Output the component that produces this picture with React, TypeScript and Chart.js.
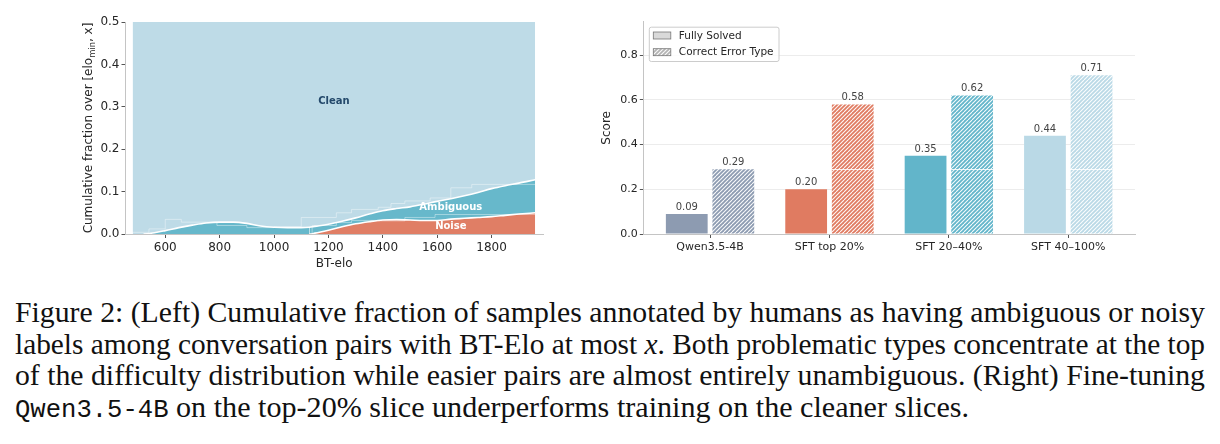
import React, { useEffect, useLayoutEffect, useRef } from "react";
import { Chart, registerables } from "chart.js";

Chart.register(...registerables);

// ---------- Left panel: cumulative fraction of problematic labels vs BT-elo ----------
const eloGrid = [480, 520, 560, 600, 650, 700, 750, 800, 850, 900, 950, 1000, 1050, 1100, 1130, 1150, 1200, 1250, 1300, 1350, 1400, 1450, 1500, 1550, 1600, 1650, 1700, 1750, 1800, 1850, 1900, 1960];
// upper edge of the ambiguous band (ambiguous + noise, cumulative)
const cumAmbiguousOrNoise = [0, 0, 0.003, 0.008, 0.015, 0.021, 0.026, 0.028, 0.028, 0.025, 0.019, 0.016, 0.015, 0.015, 0.016, 0.018, 0.023, 0.03, 0.038, 0.047, 0.055, 0.06, 0.064, 0.07, 0.077, 0.083, 0.09, 0.098, 0.107, 0.114, 0.12, 0.128];
// upper edge of the noise band (cumulative)
const cumNoise = [0, 0, 0, 0, 0, 0, 0, 0, 0, 0, 0, 0, 0, 0, 0, 0.002, 0.009, 0.017, 0.024, 0.029, 0.033, 0.034, 0.033, 0.032, 0.032, 0.035, 0.037, 0.039, 0.041, 0.044, 0.047, 0.05];

// raw binned values, drawn as faint steps behind the smoothed curves
const ambiguousBinEdges = [480, 540, 600, 659, 790, 900, 1000, 1100, 1229, 1285, 1383, 1430, 1481, 1574, 1650, 1727, 1835, 1960];
const ambiguousBinValues = [0, 0.004, 0.012, 0.0345, 0.028, 0.02, 0.015, 0.017, 0.039, 0.05, 0.058, 0.063, 0.072, 0.078, 0.085, 0.109, 0.117, 0.117];
const noiseBinEdges = [1140, 1229, 1285, 1383, 1481, 1592, 1727, 1960];
const noiseBinValues = [0, 0.02, 0.027, 0.032, 0.031, 0.039, 0.046, 0.046];

const eloTicks = [600, 800, 1000, 1200, 1400, 1600, 1800];
const fracTicks = [0, 0.1, 0.2, 0.3, 0.4, 0.5];

const regionLabels = [
  { text: "Clean", elo: 1220, frac: 0.312, color: "#24496b" },
  { text: "Ambiguous", elo: 1650, frac: 0.063, color: "#ffffff" },
  { text: "Noise", elo: 1650, frac: 0.019, color: "#ffffff" },
];

const CLEAN = "#bedbe7";
const AMBIG = "#67b8cb";
const NOISE = "#e07e65";

// ---------- Right panel: scores per training slice ----------
const models = ["Qwen3.5-4B", "SFT top 20%", "SFT 20–40%", "SFT 40–100%"];
const fullySolved = [0.09, 0.2, 0.35, 0.44];
const correctErrorType = [0.29, 0.58, 0.62, 0.71];
const modelColors = ["#8d9bb1", "#e07b61", "#62b5ca", "#bad9e6"];
const scoreTicks = [0, 0.2, 0.4, 0.6, 0.8];

// ---------- Caption ----------
type Seg = { t: string; kind?: "mono" | "math" };
const captionLines: Seg[][] = [
  [{ t: "Figure 2: (Left) Cumulative fraction of samples annotated by humans as having ambiguous or noisy" }],
  [{ t: "labels among conversation pairs with BT-Elo at most " }, { t: "x", kind: "math" }, { t: ". Both problematic types concentrate at the top" }],
  [{ t: "of the difficulty distribution while easier pairs are almost entirely unambiguous. (Right) Fine-tuning" }],
  [{ t: "Qwen3.5-4B", kind: "mono" }, { t: " on the top-20% slice underperforms training on the cleaner slices." }],
];
const captionWidths = [1190, 1190, 1190, 954];

const SANS = "'DejaVu Sans', sans-serif";
const TEXT = "#262626";

const toPoints = (xs: number[], ys: number[]) => xs.map((x, i) => ({ x, y: ys[i] }));

const hideFlatZero = (ctx: any) =>
  ctx.p0.parsed.y === 0 && ctx.p1.parsed.y === 0 ? "rgba(0,0,0,0)" : "#ffffff";

function makeHatch(color: string, line = "rgba(255,255,255,0.95)") {
  const c = document.createElement("canvas");
  c.width = 8;
  c.height = 8;
  const g = c.getContext("2d")!;
  g.fillStyle = color;
  g.fillRect(0, 0, 8, 8);
  g.strokeStyle = line;
  g.lineWidth = 1.1;
  for (let k = 0; k <= 16; k += 4) {
    g.beginPath();
    g.moveTo(k, 0);
    g.lineTo(k - 8, 8);
    g.stroke();
  }
  return g.createPattern(c, "repeat")!;
}

const leftDecor = {
  id: "leftDecor",
  afterDatasetsDraw(chart: any) {
    const { ctx, scales } = chart;
    ctx.save();
    ctx.textAlign = "center";
    ctx.textBaseline = "middle";
    ctx.font = `bold 10px ${SANS}`;
    for (const r of regionLabels) {
      ctx.fillStyle = r.color;
      ctx.fillText(r.text, scales.x.getPixelForValue(r.elo), scales.y.getPixelForValue(r.frac));
    }
    ctx.restore();
  },
  afterDraw(chart: any) {
    const { ctx, chartArea } = chart;
    const main = "Cumulative fraction over [elo";
    const sub = "min";
    const tail = ", x]";
    const f = `12px ${SANS}`;
    const fs = `8.4px ${SANS}`;
    ctx.save();
    ctx.font = f;
    const w1 = ctx.measureText(main).width;
    const w3 = ctx.measureText(tail).width;
    ctx.font = fs;
    const w2 = ctx.measureText(sub).width;
    const total = w1 + w2 + w3;
    ctx.translate(chartArea.left - 37, (chartArea.top + chartArea.bottom) / 2);
    ctx.rotate(-Math.PI / 2);
    ctx.fillStyle = TEXT;
    ctx.textBaseline = "alphabetic";
    ctx.textAlign = "left";
    let xx = -total / 2;
    const by = 4.4;
    ctx.font = f;
    ctx.fillText(main, xx, by);
    xx += w1;
    ctx.font = fs;
    ctx.fillText(sub, xx, by + 2.6);
    xx += w2;
    ctx.font = f;
    ctx.fillText(tail, xx, by);
    ctx.restore();
  },
};

const rightDecor = {
  id: "rightDecor",
  afterDatasetsDraw(chart: any) {
    const { ctx, scales, chartArea } = chart;
    ctx.save();
    // reference level of the base model, marked across the fine-tuned hatched bars
    const hatchedMeta = chart.getDatasetMeta(1);
    const yRef = Math.round(scales.y.getPixelForValue(correctErrorType[0])) + 0.5;
    ctx.strokeStyle = "rgba(255,255,255,0.85)";
    ctx.lineWidth = 1;
    hatchedMeta.data.forEach((bar: any, i: number) => {
      if (i === 0) return;
      ctx.beginPath();
      ctx.moveTo(bar.x - bar.width / 2, yRef);
      ctx.lineTo(bar.x + bar.width / 2, yRef);
      ctx.stroke();
    });
    // value labels
    ctx.font = `10px ${SANS}`;
    ctx.fillStyle = "#444444";
    ctx.textAlign = "center";
    ctx.textBaseline = "alphabetic";
    [fullySolved, correctErrorType].forEach((vals, d) => {
      chart.getDatasetMeta(d).data.forEach((bar: any, i: number) => {
        ctx.fillText(vals[i].toFixed(2), bar.x, bar.y - 4);
      });
    });
    // legend
    const items = [
      { label: "Fully Solved", fill: "#d9d9d9" as any },
      { label: "Correct Error Type", fill: makeHatch("#b3b3b3") as any },
    ];
    ctx.font = `10.5px ${SANS}`;
    const tw = Math.max(...items.map((it) => ctx.measureText(it.label).width));
    const bx = chartArea.left + 5.5;
    const by = chartArea.top + 5;
    const bw = 30 + tw + 5;
    const bh = 34.3;
    ctx.beginPath();
    ctx.roundRect(bx + 0.5, by + 0.5, bw, bh, 2);
    ctx.fillStyle = "rgba(255,255,255,0.85)";
    ctx.fill();
    ctx.strokeStyle = "#cccccc";
    ctx.lineWidth = 1;
    ctx.stroke();
    ctx.textAlign = "left";
    ctx.textBaseline = "middle";
    items.forEach((it, i) => {
      const cy = by + 8.8 + i * 16.7;
      ctx.fillStyle = it.fill;
      ctx.fillRect(bx + 4.5, cy - 3.5, 17.5, 7);
      ctx.strokeStyle = "#777777";
      ctx.lineWidth = 0.8;
      ctx.strokeRect(bx + 4.5, cy - 3.5, 17.5, 7);
      ctx.fillStyle = TEXT;
      ctx.fillText(it.label, bx + 30, cy + 0.5);
    });
    ctx.restore();
  },
};

function leftConfig(): any {
  return {
    type: "line",
    data: {
      datasets: [
        {
          label: "Noise",
          data: toPoints(eloGrid, cumNoise),
          fill: "origin",
          backgroundColor: NOISE,
          borderColor: "#ffffff",
          borderWidth: 1.6,
          pointRadius: 0,
          cubicInterpolationMode: "monotone",
          segment: { borderColor: hideFlatZero },
          order: 1,
        },
        {
          label: "Ambiguous",
          data: toPoints(eloGrid, cumAmbiguousOrNoise),
          fill: "-1",
          backgroundColor: AMBIG,
          borderColor: "#ffffff",
          borderWidth: 1.6,
          pointRadius: 0,
          cubicInterpolationMode: "monotone",
          segment: { borderColor: hideFlatZero },
          order: 2,
        },
        {
          label: "Clean",
          data: toPoints(eloGrid, cumAmbiguousOrNoise),
          fill: { value: 1 },
          backgroundColor: CLEAN,
          borderWidth: 0,
          pointRadius: 0,
          cubicInterpolationMode: "monotone",
          order: 3,
        },
        {
          label: "Ambiguous (binned)",
          data: toPoints(ambiguousBinEdges, ambiguousBinValues),
          stepped: "after",
          fill: false,
          borderColor: "rgba(255,255,255,0.4)",
          borderWidth: 1,
          pointRadius: 0,
          order: 0,
        },
        {
          label: "Noise (binned)",
          data: toPoints(noiseBinEdges, noiseBinValues),
          stepped: "after",
          fill: false,
          borderColor: "rgba(255,255,255,0.4)",
          borderWidth: 1,
          pointRadius: 0,
          order: 0,
        },
      ],
    },
    options: {
      animation: false,
      responsive: false,
      devicePixelRatio: 1,
      layout: { padding: { left: 0, top: 22, right: 16.7, bottom: 0 } },
      plugins: { legend: { display: false }, tooltip: { enabled: false } },
      scales: {
        x: {
          type: "linear",
          min: 452,
          max: 1990,
          afterBuildTicks: (s: any) => {
            s.ticks = eloTicks.map((value) => ({ value }));
          },
          afterFit: (s: any) => {
            s.height = 41;
          },
          ticks: {
            color: TEXT,
            font: { family: SANS, size: 12 },
            padding: 3,
            maxRotation: 0,
            autoSkip: false,
            callback: (v: any) => String(v),
          },
          grid: { drawOnChartArea: false, drawTicks: true, tickLength: 4, tickColor: "#555555" },
          border: { color: "#c4c4c4", width: 1 },
          title: { display: true, text: "BT-elo", color: TEXT, font: { family: SANS, size: 12 }, padding: { top: 0, bottom: 3.5 } },
        },
        y: {
          min: 0,
          max: 0.5,
          afterBuildTicks: (s: any) => {
            s.ticks = fracTicks.map((value) => ({ value }));
          },
          afterFit: (s: any) => {
            s.width = 125;
          },
          ticks: { color: TEXT, font: { family: SANS, size: 12 }, padding: 2, callback: (v: any) => Number(v).toFixed(1) },
          grid: { drawOnChartArea: false, drawTicks: true, tickLength: 3.5, tickColor: "#555555" },
          border: { color: "#c4c4c4", width: 1 },
        },
      },
    },
    plugins: [leftDecor],
  };
}

function rightConfig(): any {
  const idx = models.map((_, i) => i);
  return {
    type: "bar",
    data: {
      datasets: [
        {
          label: "Fully Solved",
          data: toPoints(idx, fullySolved),
          backgroundColor: modelColors,
          borderWidth: 0,
          categoryPercentage: 0.78,
          barPercentage: 0.897,
        },
        {
          label: "Correct Error Type",
          data: toPoints(idx, correctErrorType),
          backgroundColor: modelColors.map((c) => makeHatch(c)),
          borderWidth: 0,
          categoryPercentage: 0.78,
          barPercentage: 0.897,
        },
      ],
    },
    options: {
      animation: false,
      responsive: false,
      devicePixelRatio: 1,
      layout: { padding: { left: 0, top: 21.7, right: 25, bottom: 0 } },
      plugins: { legend: { display: false }, tooltip: { enabled: false } },
      scales: {
        x: {
          type: "linear",
          offset: false,
          min: -0.559,
          max: 3.559,
          afterBuildTicks: (s: any) => {
            s.ticks = idx.map((value) => ({ value }));
          },
          afterFit: (s: any) => {
            s.height = 41;
          },
          ticks: { color: TEXT, font: { family: SANS, size: 11 }, padding: 3, maxRotation: 0, autoSkip: false, callback: (v: any) => models[v] },
          grid: { offset: false, drawOnChartArea: false, drawTicks: true, tickLength: 4, tickColor: "#555555" },
          border: { color: "#c4c4c4", width: 1 },
        },
        y: {
          min: 0,
          max: 0.95,
          afterBuildTicks: (s: any) => {
            s.ticks = scoreTicks.map((value) => ({ value }));
          },
          afterFit: (s: any) => {
            s.width = 83.3;
          },
          ticks: { color: TEXT, font: { family: SANS, size: 11 }, padding: 2, callback: (v: any) => Number(v).toFixed(1) },
          grid: { color: "#ececec", lineWidth: 1, drawTicks: true, tickLength: 3.5, tickColor: "#555555" },
          border: { color: "#c4c4c4", width: 1 },
          title: { display: true, text: "Score", color: TEXT, font: { family: SANS, size: 12 }, padding: { top: 39.8, bottom: 0 } },
        },
      },
    },
    plugins: [rightDecor],
  };
}

const CAPTION_BASE_PX = 25;

function Caption() {
  const boxRefs = useRef<(HTMLDivElement | null)[]>([]);
  const refs = useRef<(HTMLSpanElement | null)[]>([]);
  useLayoutEffect(() => {
    const fit = () => {
      const spans = refs.current;
      const boxes = boxRefs.current;
      // size the serif text so the last (ragged) line has its natural width
      boxes.forEach((b) => b && (b.style.fontSize = `${CAPTION_BASE_PX}px`));
      spans.forEach((el) => el && ((el.style.wordSpacing = "0px"), (el.style.transform = "none")));
      const last = spans[spans.length - 1];
      if (last) {
        const w = last.getBoundingClientRect().width;
        const size = (CAPTION_BASE_PX * captionWidths[captionWidths.length - 1]) / w;
        boxes.forEach((b) => b && (b.style.fontSize = `${size}px`));
      }
      spans.forEach((el, i) => {
        if (!el) return;
        const natural = el.getBoundingClientRect().width;
        const target = captionWidths[i];
        const spaces = ((el.textContent || "").match(/ /g) || []).length;
        if (natural <= target && spaces > 0) {
          el.style.wordSpacing = `${(target - natural) / spaces}px`;
        } else if (natural > target) {
          el.style.transform = `scaleX(${target / natural})`;
        }
      });
    };
    fit();
    (document as any).fonts?.ready?.then(fit);
  }, []);
  return (
    <>
      {captionLines.map((line, i) => (
        <div
          key={i}
          ref={(el) => {
            boxRefs.current[i] = el;
          }}
          style={{
            position: "absolute",
            left: 15,
            top: 297 + i * 31.5,
            height: 31.5,
            lineHeight: "31.5px",
            fontFamily: "'Liberation Serif', 'Times New Roman', serif",
            fontSize: CAPTION_BASE_PX,
            color: "#111",
            whiteSpace: "nowrap",
          }}
        >
          <span
            ref={(el) => {
              refs.current[i] = el;
            }}
            style={{ display: "inline-block", transformOrigin: "left center", whiteSpace: "pre" }}
          >
            {line.map((s, j) =>
              s.kind === "mono" ? (
                <span key={j} style={{ fontFamily: "'Liberation Mono', 'DejaVu Sans Mono', monospace", fontSize: "0.85em" }}>
                  {s.t}
                </span>
              ) : s.kind === "math" ? (
                <span key={j} style={{ fontStyle: "italic" }}>
                  {s.t}
                </span>
              ) : (
                <span key={j}>{s.t}</span>
              )
            )}
          </span>
        </div>
      ))}
    </>
  );
}

export default function App() {
  const leftRef = useRef<HTMLCanvasElement>(null);
  const rightRef = useRef<HTMLCanvasElement>(null);
  useEffect(() => {
    const left = new Chart(leftRef.current!, leftConfig());
    const right = new Chart(rightRef.current!, rightConfig());
    return () => {
      left.destroy();
      right.destroy();
    };
  }, []);
  return (
    <div style={{ position: "absolute", left: 0, top: 0, width: 1220, height: 444, background: "#ffffff", overflow: "hidden" }}>
      <canvas ref={leftRef} width={560} height={275} style={{ position: "absolute", left: 0, top: 0, width: 560, height: 275 }} />
      <canvas ref={rightRef} width={600} height={275} style={{ position: "absolute", left: 560, top: 0, width: 600, height: 275 }} />
      <Caption />
    </div>
  );
}
